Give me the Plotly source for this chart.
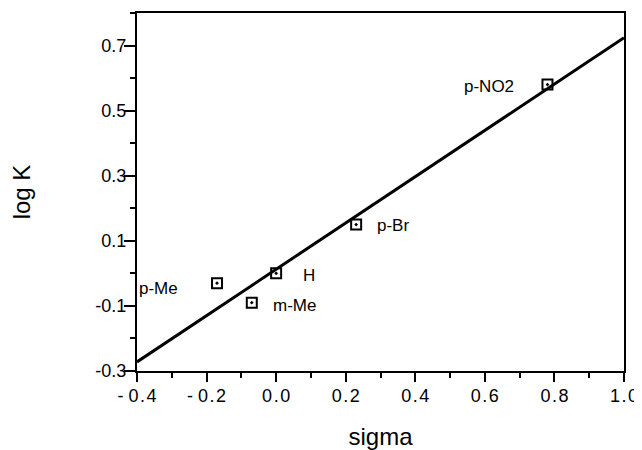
import plotly.graph_objects as go

# data
substituents = ["p-Me", "m-Me", "H", "p-Br", "p-NO2"]
sigma = [-0.17, -0.07, 0.0, 0.23, 0.78]
log_k = [-0.03, -0.09, 0.0, 0.15, 0.58]
fit_sigma = [-0.4, 1.0]
fit_log_k = [-0.272, 0.724]
x_tick_vals = [-0.4, -0.2, 0.0, 0.2, 0.4, 0.6, 0.8, 1.0]
x_tick_text = ["- 0\u200a.\u200a4", "- 0\u200a.\u200a2", "0\u200a.\u200a0",
               "0\u200a.\u200a2", "0\u200a.\u200a4", "0\u200a.\u200a6",
               "0\u200a.\u200a8", "1\u200a.\u200a0"]
y_tick_vals = [-0.3, -0.1, 0.1, 0.3, 0.5, 0.7]
y_tick_text = ["-0.3", "-0.1", "0.1", "0.3", "0.5", "0.7"]

# label offsets in pixels (layout only)
label_dx = [-59, 43, 33, 37, -58]
label_dy = [-5, -3, -2, -1, -2]

FONT = "Liberation Sans, Arial, Helvetica, sans-serif"

fig = go.Figure()
fig.add_trace(go.Scatter(x=fit_sigma, y=fit_log_k, mode="lines",
                         line=dict(color="black", width=3), showlegend=False,
                         hoverinfo="skip"))
fig.add_trace(go.Scatter(x=sigma, y=log_k, mode="markers",
                         marker=dict(symbol="square-open-dot", size=10, color="black",
                                     line=dict(width=2, color="black")),
                         showlegend=False))

for name, sx, ly, dx, dy in zip(substituents, sigma, log_k, label_dx, label_dy):
    fig.add_annotation(x=sx, y=ly, text=name, showarrow=False, xshift=dx, yshift=dy,
                       font=dict(family=FONT, size=17, color="black"))

# page body has an 8px margin, so the figure is sized to fit the 642x450 window
fig.update_layout(
    width=634, height=442,
    margin=dict(l=129, r=18, t=5, b=79, autoexpand=False),
    paper_bgcolor="white", plot_bgcolor="white",
    font=dict(family=FONT, color="black"),
)
fig.update_xaxes(
    range=[-0.4, 1.0], tickmode="array", tickvals=x_tick_vals, ticktext=x_tick_text,
    ticks="outside", ticklen=9, tickwidth=2, tickcolor="black",
    minor=dict(dtick=0.1, ticks="outside", ticklen=5, tickwidth=2, tickcolor="black", showgrid=False),
    showline=True, linewidth=2, linecolor="black", mirror=True,
    showgrid=False, zeroline=False, ticklabelstandoff=-2, automargin=False,
    ticklabeloverflow="allow",
    tickfont=dict(size=18), title=dict(text="sigma", font=dict(size=24), standoff=26),
)
fig.update_yaxes(
    range=[-0.3, 0.8], tickmode="array", tickvals=y_tick_vals, ticktext=y_tick_text,
    ticks="outside", ticklen=11, tickwidth=2, tickcolor="black",
    minor=dict(dtick=0.1, ticks="outside", ticklen=5, tickwidth=2, tickcolor="black", showgrid=False),
    showline=True, linewidth=2, linecolor="black", mirror=True,
    showgrid=False, zeroline=False, ticklabelstandoff=-6, automargin=False,
    tickfont=dict(size=18), title=dict(text="log K", font=dict(size=24), standoff=60),
)

fig.write_html("out.html")
